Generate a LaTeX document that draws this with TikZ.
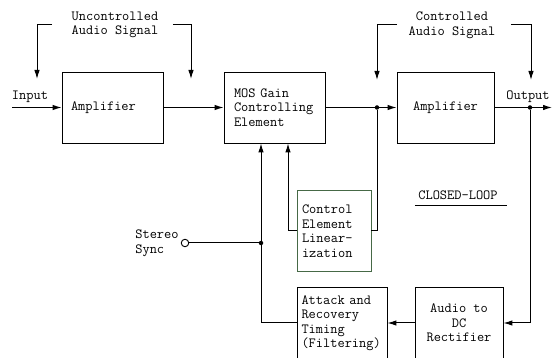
\documentclass[tikz,border=0pt]{standalone}
\usepackage{xcolor}
\usepackage{tikz}
\usetikzlibrary{arrows.meta, positioning, calc}
\definecolor{lingreen}{RGB}{70,105,70}

\begin{document}
\begin{tikzpicture}[
    x=1pt, y=-1pt,
    every node/.style={font=\ttfamily\fontsize{14}{14.5}\selectfont, align=center},
    block/.style={draw, line width=0.9pt, minimum height=71pt, align=left},
    dot/.style={circle, fill, inner sep=0pt, minimum size=4.5pt},
    arrow/.style={-{Latex[length=9pt,width=5.5pt]}, line width=1pt}
]
\useasboundingbox (0,0) rectangle (552,358);
\node[block, text width=83pt, inner xsep=9pt]  (amp1) at (112.5,107.5) {Amplifier};
\node[block, text width=81pt, inner xsep=10pt] (mos)  at (274.5,107.5) {MOS Gain\\Controlling\\Element};
\node[block, minimum width=97pt, align=center] (amp2) at (445.5,107.5) {Amplifier};
\node[block, text width=64pt, inner xsep=5pt, minimum height=81pt, draw=lingreen] (lin) at (334,231)
    {Control\\Element\\Linear-\\ization};
\node[block, text width=81pt, inner xsep=4.5pt, minimum height=72pt] (att) at (342,323)
    {Attack and\\Recovery\\Timing\\(Filtering)};
\node[block, minimum width=88pt, minimum height=72pt, align=center] (rect) at (459,323)
    {Audio to\\DC\\Rectifier};
\node[dot] (j1) at (377,107.5) {};
\node[dot] (j2) at (530,107.5) {};
\node[dot] (j3) at (261,243) {};
\node[draw, circle, inner sep=0pt, minimum size=7.5pt, line width=0.9pt] (sync) at (185,243) {};
\node[anchor=east, align=left, inner sep=2pt] (synclbl) at (sync.west) {Stereo\\Sync};
\coordinate (in) at (12,107.5);
\coordinate (out) at (552,107.5);
\node (inlbl)  at (30,97)  {Input};
\node (outlbl) at (528,97) {Output};
\node (unc) at (115,25) {Uncontrolled\\Audio Signal};
\node (ctl) at (452,25) {Controlled\\Audio Signal};
\coordinate (u1) at (37,79);  \coordinate (u2) at (191,79);
\coordinate (c1) at (377,80); \coordinate (c2) at (531,80);
\draw[arrow] ([xshift=-16pt]unc.west) -| (u1);
\draw[arrow] ([xshift=11pt]unc.east) -| (u2);
\draw[arrow] ([xshift=-8pt]ctl.west) -| (c1);
\draw[arrow] ([xshift=12pt]ctl.east) -| (c2);
\node (cl) at (458,195) {CLOSED-LOOP};
\draw[line width=0.8pt] ([yshift=-2pt]cl.south west) -- ([xshift=6pt,yshift=-2pt]cl.south east);
\draw[arrow] (in) -- (amp1); \draw[arrow] (amp1) -- (mos);
\draw[line width=1pt] (mos) -- (j1); \draw[arrow] (j1) -- (amp2);
\draw[line width=1pt] (amp2) -- (j2); \draw[arrow] (j2) -- (out);
\draw[arrow] (j2) |- (rect);
\draw[arrow] (rect) -- (att);
\draw[line width=1pt] (att.west) -| (j3);
\draw[arrow] (j3) -- (j3 |- mos.south);
\draw[line width=1pt] (sync) -- (j3);
\draw[line width=1pt] (j1) |- (lin.east);
\draw[arrow] (lin.west) -| ([xshift=13.5pt]mos.south);
\end{tikzpicture}
\end{document}
